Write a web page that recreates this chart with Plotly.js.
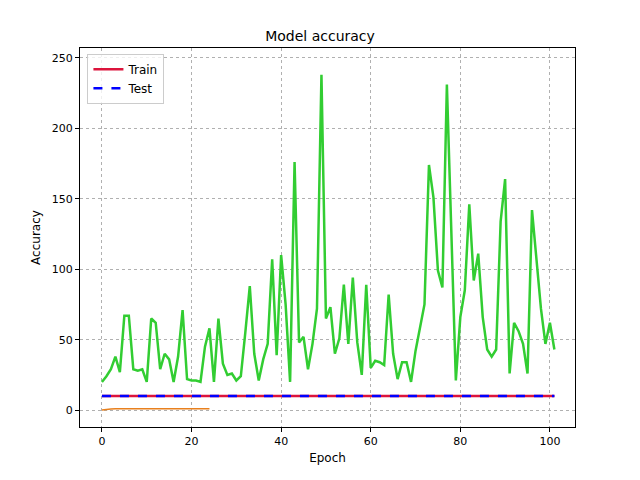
<!DOCTYPE html>
<html>
<head>
<script src="https://cdn.plot.ly/plotly-3.0.1.min.js"></script>
<style>body{margin:0}#chart{width:640px;height:480px}</style>
</head>
<body>
<div id="chart"></div>
<script>
// values
var epochs = [];
for (var i = 0; i <= 101; i++) epochs.push(i);
var trainAcc = [];
var testAcc = [];
for (var i = 0; i <= 101; i++) { trainAcc.push(10); testAcc.push(10); }
var orangeEpochs = epochs.slice(0, 25);
var orangeVals = [0, 0.5, 0.8, 0.9, 1, 1, 1, 1, 1, 1, 1, 1, 1, 1, 1, 1, 1, 1, 1, 1, 1, 1, 1, 1, 1];
var greenVals = [20, 24, 29, 38, 27, 67, 67, 29, 28, 29, 20, 65, 62, 29, 40, 36, 20, 38, 71, 22,
  21, 21, 20, 45, 58, 20, 65, 33, 25, 26, 21, 24, 55, 88, 40, 21, 36, 47, 107, 39,
  110, 75, 20, 176, 48, 52, 29, 47, 72, 238, 65, 73, 40, 51, 89, 47, 94, 48, 25, 89,
  30, 35, 34, 32, 82, 40, 22, 34, 34, 20, 42, 58, 75, 174, 151, 99, 87, 231, 125, 21,
  66, 85, 146, 92, 111, 66, 43, 38, 43, 134, 164, 26, 62, 56, 47, 26, 142, 105, 72, 47,
  62, 43];

var data = [
  {x: epochs, y: trainAcc, name: 'Train', mode: 'lines', line: {color: 'crimson', width: 2.5}},
  {x: epochs, y: testAcc, name: 'Test', mode: 'lines', line: {color: 'blue', width: 2.5, dash: 'dash'}},
  {x: orangeEpochs, y: orangeVals, mode: 'lines', showlegend: false, line: {color: '#e8801e', width: 1.5}},
  {x: epochs, y: greenVals, mode: 'lines', showlegend: false, line: {color: 'limegreen', width: 2.5}}
];
var axisStyle = {
  showline: true, mirror: true, linecolor: 'black', linewidth: 1,
  ticks: 'outside', ticklen: 4, tickcolor: 'black',
  showgrid: true, gridcolor: '#b0b0b0', griddash: 'dot', gridwidth: 1, zeroline: false,
  tickfont: {size: 11, color: 'black'}
};
var layout = {
  title: {text: 'Model accuracy', font: {size: 14, color: 'black'}, x: 0.5, y: 0.925, yanchor: 'middle'},
  font: {family: 'DejaVu Sans', color: 'black'},
  paper_bgcolor: 'white', plot_bgcolor: 'white',
  margin: {l: 80, r: 65, t: 48, b: 53},
  xaxis: Object.assign({}, axisStyle, {range: [-4.9, 105.6], dtick: 20, title: {text: 'Epoch', font: {size: 12}, standoff: 6}}),
  yaxis: Object.assign({}, axisStyle, {range: [-12, 257], dtick: 50, title: {text: 'Accuracy', font: {size: 12}, standoff: 8}}),
  showlegend: true,
  legend: {x: 0.015, y: 0.985, xanchor: 'left', yanchor: 'top', bordercolor: '#cccccc', borderwidth: 1,
    bgcolor: 'rgba(255,255,255,0.8)', font: {size: 12}}
};
Plotly.newPlot('chart', data, layout, {displayModeBar: false, staticPlot: true});
</script>
</body>
</html>
